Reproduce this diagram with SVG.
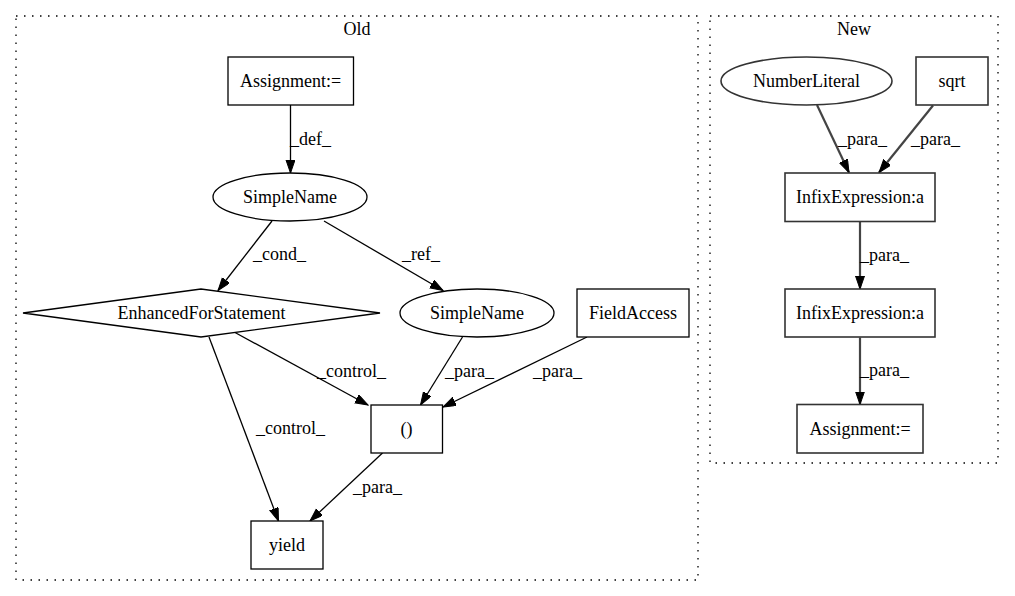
<svg xmlns="http://www.w3.org/2000/svg" width="1015" height="596" viewBox="0 0 1015 596">
<style>
text{font-family:"Liberation Serif","Times New Roman",serif;font-size:18px;fill:#000}
.c{text-anchor:middle}
.node{fill:#fff;stroke:#000;stroke-width:1.3}
.nnode{fill:#fff;stroke:#333;stroke-width:1.6}
.cl{fill:none;stroke:#000;stroke-width:1.3;stroke-dasharray:1.5,6.5}
.e{fill:none;stroke:#000;stroke-width:1.3}
.ne{fill:none;stroke:#444;stroke-width:2.2}
</style>
<defs>
<marker id="ah" markerUnits="userSpaceOnUse" markerWidth="14" markerHeight="10" refX="13" refY="4.5" orient="auto">
<path d="M0,0 L13,4.5 L0,9 z" fill="#000" stroke="#000" stroke-width="1"/>
</marker>
</defs>
<rect width="1015" height="596" fill="#fff"/>
<g id="cluster_old">
<rect class="cl" x="16" y="16" width="682" height="564"/>
<text class="c" x="357" y="35">Old</text>
</g>
<g id="cluster_new">
<rect class="cl" x="710" y="16" width="288" height="447"/>
<text class="c" x="854" y="35">New</text>
</g>
<g id="edges">
<path class="e" marker-end="url(#ah)" d="M290.5,105 L290.5,173"/>
<text x="290" y="145">_def_</text>
<path class="e" marker-end="url(#ah)" d="M272,221 L218,290.5"/>
<text x="253" y="260">_cond_</text>
<path class="e" marker-end="url(#ah)" d="M324,221 L443,290.5"/>
<text x="402" y="260">_ref_</text>
<path class="e" marker-end="url(#ah)" d="M235,332.5 L368,405"/>
<text x="317" y="377">_control_</text>
<path class="e" marker-end="url(#ah)" d="M209,337 L278.5,521"/>
<text x="256" y="434">_control_</text>
<path class="e" marker-end="url(#ah)" d="M462.5,337 L420.5,405"/>
<text x="445" y="377">_para_</text>
<path class="e" marker-end="url(#ah)" d="M587,337 L443,407"/>
<text x="533" y="377">_para_</text>
<path class="e" marker-end="url(#ah)" d="M382.5,453 L310,521"/>
<text x="353" y="493">_para_</text>
<path class="ne" marker-end="url(#ah)" d="M817,105 L849,172.5"/>
<text x="838" y="145">_para_</text>
<path class="ne" marker-end="url(#ah)" d="M933,105.5 L879,172.5"/>
<text x="911" y="145">_para_</text>
<path class="ne" marker-end="url(#ah)" d="M860,221.5 L860,289"/>
<text x="860" y="261">_para_</text>
<path class="ne" marker-end="url(#ah)" d="M860,337.5 L860,404.5"/>
<text x="860" y="376">_para_</text>
</g>
<g id="old_assignment">
<rect class="node" x="228" y="57" width="125.5" height="48"/>
<text class="c" x="290.5" y="87">Assignment:=</text>
</g>
<g id="old_simplename1">
<ellipse class="node" cx="290" cy="197" rx="77" ry="24"/>
<text class="c" x="290" y="203">SimpleName</text>
</g>
<g id="old_enhancedfor">
<polygon class="node" points="23,313 201,289 380,313 201,337"/>
<text class="c" x="201.5" y="319">EnhancedForStatement</text>
</g>
<g id="old_simplename2">
<ellipse class="node" cx="477" cy="313" rx="77" ry="24"/>
<text class="c" x="477" y="319">SimpleName</text>
</g>
<g id="old_fieldaccess">
<rect class="node" x="577" y="289" width="112" height="48"/>
<text class="c" x="633" y="319">FieldAccess</text>
</g>
<g id="old_paren">
<rect class="node" x="371" y="405" width="71.5" height="48"/>
<text class="c" x="406.5" y="435">()</text>
</g>
<g id="old_yield">
<rect class="node" x="251" y="521" width="72" height="48"/>
<text class="c" x="287" y="551">yield</text>
</g>
<g id="new_numberliteral">
<ellipse class="nnode" cx="806.5" cy="81" rx="85.5" ry="24"/>
<text class="c" x="806.5" y="87">NumberLiteral</text>
</g>
<g id="new_sqrt">
<rect class="nnode" x="916" y="57" width="72" height="48"/>
<text class="c" x="952" y="87">sqrt</text>
</g>
<g id="new_infix1">
<rect class="nnode" x="785" y="173" width="150" height="48.5"/>
<text class="c" x="860" y="203">InfixExpression:a</text>
</g>
<g id="new_infix2">
<rect class="nnode" x="785" y="289" width="150" height="48"/>
<text class="c" x="860" y="319">InfixExpression:a</text>
</g>
<g id="new_assignment">
<rect class="nnode" x="797" y="404.5" width="126" height="48.5"/>
<text class="c" x="860" y="435">Assignment:=</text>
</g>
</svg>
